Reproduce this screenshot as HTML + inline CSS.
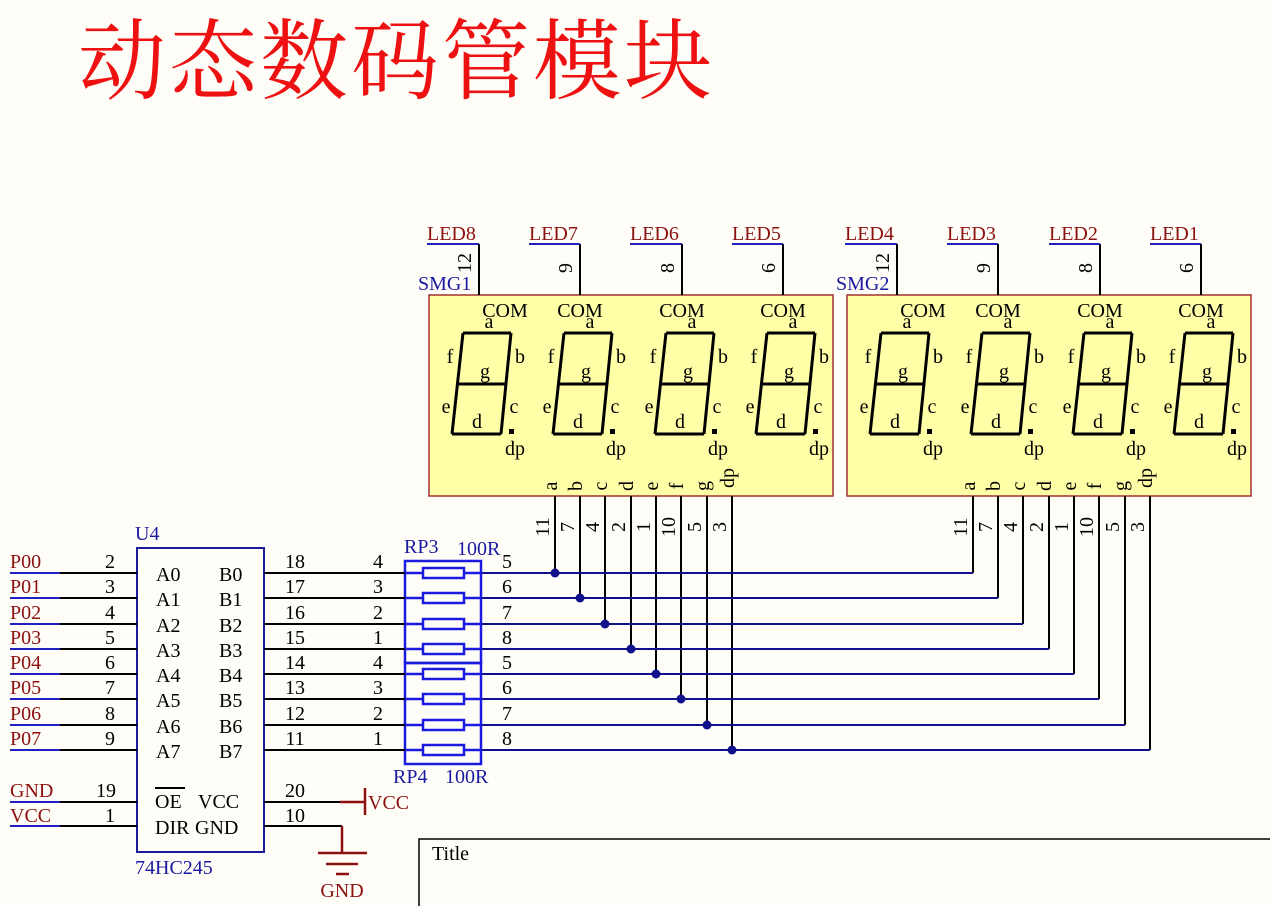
<!DOCTYPE html>
<html><head><meta charset="utf-8"><style>
body{margin:0;background:#fffdf7;}
svg{display:block}
text{font-family:"Liberation Serif",serif;font-size:20px;}
.t{fill:#000}
.bl{fill:#1a1aa0}
.rd{fill:#8b1010}
</style></head><body>
<svg width="1270" height="906" viewBox="0 0 1270 906" xmlns="http://www.w3.org/2000/svg">
<rect width="1270" height="906" fill="#fffdf7"/>
<text x="78" y="92" style="font-family:'Noto Serif CJK SC','Liberation Serif',serif;font-size:88px;fill:#ee1111;letter-spacing:3px">动态数码管模块</text>

<rect x="429" y="295" width="404" height="201" fill="#ffffa8" stroke="#a03030" stroke-width="1.5"/>
<rect x="847" y="295" width="404" height="201" fill="#ffffa8" stroke="#a03030" stroke-width="1.5"/>
<text x="418" y="290" class="bl">SMG1</text>
<text x="836" y="290" class="bl">SMG2</text>

<g stroke-width="2" fill="none">
<path d="M427 244H479M529 244H580M630 244H682M732 244H783M845 244H897M947 244H998M1049 244H1100M1150 244H1201" stroke="#2020c0"/>
<path d="M479 244V295M580 244V295M682 244V295M783 244V295M897 244V295M998 244V295M1100 244V295M1201 244V295" stroke="#000"/>
</g>
<text x="427" y="240" class="rd">LED8</text><text x="529" y="240" class="rd">LED7</text><text x="630" y="240" class="rd">LED6</text><text x="732" y="240" class="rd">LED5</text>
<text x="845" y="240" class="rd">LED4</text><text x="947" y="240" class="rd">LED3</text><text x="1049" y="240" class="rd">LED2</text><text x="1150" y="240" class="rd">LED1</text>
<g class="t" text-anchor="middle">
<text transform="translate(471,263) rotate(-90)">12</text>
<text transform="translate(572,268) rotate(-90)">9</text>
<text transform="translate(674,268) rotate(-90)">8</text>
<text transform="translate(775,268) rotate(-90)">6</text>
<text transform="translate(889,263) rotate(-90)">12</text>
<text transform="translate(990,268) rotate(-90)">9</text>
<text transform="translate(1092,268) rotate(-90)">8</text>
<text transform="translate(1193,268) rotate(-90)">6</text>
</g>

<g transform="translate(479,0)">
<path d="M-16 333H32M-22 384H27M-27 434H22M-16 333L-27 434M32 333L22 434" stroke="#000" stroke-width="3" fill="none"/>
<rect x="30" y="429" width="5" height="5" fill="#000"/>
<g class="t" text-anchor="middle"><text x="26" y="317">COM</text><text x="10" y="328">a</text><text x="-29" y="363">f</text><text x="41" y="363">b</text><text x="6" y="378">g</text><text x="-33" y="413">e</text><text x="35" y="413">c</text><text x="-2" y="428">d</text><text x="36" y="455">dp</text></g>
</g>
<g transform="translate(580,0)">
<path d="M-16 333H32M-22 384H27M-27 434H22M-16 333L-27 434M32 333L22 434" stroke="#000" stroke-width="3" fill="none"/>
<rect x="30" y="429" width="5" height="5" fill="#000"/>
<g class="t" text-anchor="middle"><text x="0" y="317">COM</text><text x="10" y="328">a</text><text x="-29" y="363">f</text><text x="41" y="363">b</text><text x="6" y="378">g</text><text x="-33" y="413">e</text><text x="35" y="413">c</text><text x="-2" y="428">d</text><text x="36" y="455">dp</text></g>
</g>
<g transform="translate(682,0)">
<path d="M-16 333H32M-22 384H27M-27 434H22M-16 333L-27 434M32 333L22 434" stroke="#000" stroke-width="3" fill="none"/>
<rect x="30" y="429" width="5" height="5" fill="#000"/>
<g class="t" text-anchor="middle"><text x="0" y="317">COM</text><text x="10" y="328">a</text><text x="-29" y="363">f</text><text x="41" y="363">b</text><text x="6" y="378">g</text><text x="-33" y="413">e</text><text x="35" y="413">c</text><text x="-2" y="428">d</text><text x="36" y="455">dp</text></g>
</g>
<g transform="translate(783,0)">
<path d="M-16 333H32M-22 384H27M-27 434H22M-16 333L-27 434M32 333L22 434" stroke="#000" stroke-width="3" fill="none"/>
<rect x="30" y="429" width="5" height="5" fill="#000"/>
<g class="t" text-anchor="middle"><text x="0" y="317">COM</text><text x="10" y="328">a</text><text x="-29" y="363">f</text><text x="41" y="363">b</text><text x="6" y="378">g</text><text x="-33" y="413">e</text><text x="35" y="413">c</text><text x="-2" y="428">d</text><text x="36" y="455">dp</text></g>
</g>
<g transform="translate(897,0)">
<path d="M-16 333H32M-22 384H27M-27 434H22M-16 333L-27 434M32 333L22 434" stroke="#000" stroke-width="3" fill="none"/>
<rect x="30" y="429" width="5" height="5" fill="#000"/>
<g class="t" text-anchor="middle"><text x="26" y="317">COM</text><text x="10" y="328">a</text><text x="-29" y="363">f</text><text x="41" y="363">b</text><text x="6" y="378">g</text><text x="-33" y="413">e</text><text x="35" y="413">c</text><text x="-2" y="428">d</text><text x="36" y="455">dp</text></g>
</g>
<g transform="translate(998,0)">
<path d="M-16 333H32M-22 384H27M-27 434H22M-16 333L-27 434M32 333L22 434" stroke="#000" stroke-width="3" fill="none"/>
<rect x="30" y="429" width="5" height="5" fill="#000"/>
<g class="t" text-anchor="middle"><text x="0" y="317">COM</text><text x="10" y="328">a</text><text x="-29" y="363">f</text><text x="41" y="363">b</text><text x="6" y="378">g</text><text x="-33" y="413">e</text><text x="35" y="413">c</text><text x="-2" y="428">d</text><text x="36" y="455">dp</text></g>
</g>
<g transform="translate(1100,0)">
<path d="M-16 333H32M-22 384H27M-27 434H22M-16 333L-27 434M32 333L22 434" stroke="#000" stroke-width="3" fill="none"/>
<rect x="30" y="429" width="5" height="5" fill="#000"/>
<g class="t" text-anchor="middle"><text x="0" y="317">COM</text><text x="10" y="328">a</text><text x="-29" y="363">f</text><text x="41" y="363">b</text><text x="6" y="378">g</text><text x="-33" y="413">e</text><text x="35" y="413">c</text><text x="-2" y="428">d</text><text x="36" y="455">dp</text></g>
</g>
<g transform="translate(1201,0)">
<path d="M-16 333H32M-22 384H27M-27 434H22M-16 333L-27 434M32 333L22 434" stroke="#000" stroke-width="3" fill="none"/>
<rect x="30" y="429" width="5" height="5" fill="#000"/>
<g class="t" text-anchor="middle"><text x="0" y="317">COM</text><text x="10" y="328">a</text><text x="-29" y="363">f</text><text x="41" y="363">b</text><text x="6" y="378">g</text><text x="-33" y="413">e</text><text x="35" y="413">c</text><text x="-2" y="428">d</text><text x="36" y="455">dp</text></g>
</g>

<g class="t" text-anchor="middle">
<text transform="translate(557,486) rotate(-90)">a</text>
<text transform="translate(582,486) rotate(-90)">b</text>
<text transform="translate(607,486) rotate(-90)">c</text>
<text transform="translate(633,486) rotate(-90)">d</text>
<text transform="translate(658,486) rotate(-90)">e</text>
<text transform="translate(683,486) rotate(-90)">f</text>
<text transform="translate(709,486) rotate(-90)">g</text>
<text transform="translate(734,478) rotate(-90)">dp</text>
<text transform="translate(975,486) rotate(-90)">a</text>
<text transform="translate(1000,486) rotate(-90)">b</text>
<text transform="translate(1025,486) rotate(-90)">c</text>
<text transform="translate(1051,486) rotate(-90)">d</text>
<text transform="translate(1076,486) rotate(-90)">e</text>
<text transform="translate(1101,486) rotate(-90)">f</text>
<text transform="translate(1127,486) rotate(-90)">g</text>
<text transform="translate(1152,478) rotate(-90)">dp</text>
<text transform="translate(549,527) rotate(-90)">11</text>
<text transform="translate(574,527) rotate(-90)">7</text>
<text transform="translate(599,527) rotate(-90)">4</text>
<text transform="translate(625,527) rotate(-90)">2</text>
<text transform="translate(650,527) rotate(-90)">1</text>
<text transform="translate(675,527) rotate(-90)">10</text>
<text transform="translate(701,527) rotate(-90)">5</text>
<text transform="translate(726,527) rotate(-90)">3</text>
<text transform="translate(967,527) rotate(-90)">11</text>
<text transform="translate(992,527) rotate(-90)">7</text>
<text transform="translate(1017,527) rotate(-90)">4</text>
<text transform="translate(1043,527) rotate(-90)">2</text>
<text transform="translate(1068,527) rotate(-90)">1</text>
<text transform="translate(1093,527) rotate(-90)">10</text>
<text transform="translate(1119,527) rotate(-90)">5</text>
<text transform="translate(1144,527) rotate(-90)">3</text>
</g>

<g stroke="#000" stroke-width="2" fill="none">
<path d="M555 496V573M580 496V598M605 496V624M631 496V649M656 496V674M681 496V699M707 496V725M732 496V750"/>
<path d="M973 496V573M998 496V598M1023 496V624M1049 496V649M1074 496V674M1099 496V699M1125 496V725M1150 496V750"/>
</g>
<g stroke="#10108a" stroke-width="2" fill="none">
<path d="M481 573H973M481 598H998M481 624H1023M481 649H1049M481 674H1074M481 699H1099M481 725H1125M481 750H1150"/>
</g>
<g fill="#10108a">
<circle cx="555" cy="573" r="4.5"/><circle cx="580" cy="598" r="4.5"/><circle cx="605" cy="624" r="4.5"/><circle cx="631" cy="649" r="4.5"/>
<circle cx="656" cy="674" r="4.5"/><circle cx="681" cy="699" r="4.5"/><circle cx="707" cy="725" r="4.5"/><circle cx="732" cy="750" r="4.5"/>
</g>

<g stroke="#1a1ae0" stroke-width="2.5" fill="none">
<rect x="405" y="561" width="76" height="102"/>
<rect x="405" y="663" width="76" height="101"/>
<path d="M405 573H481M405 598H481M405 624H481M405 649H481M405 674H481M405 699H481M405 725H481M405 750H481"/>
</g>
<g stroke="#1a1ae0" stroke-width="2.5" fill="#fffdf7">
<rect x="423" y="568" width="41" height="10"/><rect x="423" y="593" width="41" height="10"/><rect x="423" y="619" width="41" height="10"/><rect x="423" y="644" width="41" height="10"/>
<rect x="423" y="669" width="41" height="10"/><rect x="423" y="694" width="41" height="10"/><rect x="423" y="720" width="41" height="10"/><rect x="423" y="745" width="41" height="10"/>
</g>
<text x="404" y="553" class="bl">RP3</text><text x="457" y="555" class="bl">100R</text>
<text x="393" y="783" class="bl">RP4</text><text x="445" y="783" class="bl">100R</text>
<g class="t" text-anchor="middle">
<text x="507" y="568">5</text><text x="507" y="593">6</text><text x="507" y="619">7</text><text x="507" y="644">8</text>
<text x="507" y="669">5</text><text x="507" y="694">6</text><text x="507" y="720">7</text><text x="507" y="745">8</text>
<text x="378" y="568">4</text><text x="378" y="593">3</text><text x="378" y="619">2</text><text x="378" y="644">1</text>
<text x="378" y="669">4</text><text x="378" y="694">3</text><text x="378" y="720">2</text><text x="378" y="745">1</text>
<text x="295" y="568">18</text><text x="295" y="593">17</text><text x="295" y="619">16</text><text x="295" y="644">15</text>
<text x="295" y="669">14</text><text x="295" y="694">13</text><text x="295" y="720">12</text><text x="295" y="745">11</text>
<text x="110" y="568">2</text><text x="110" y="593">3</text><text x="110" y="619">4</text><text x="110" y="644">5</text>
<text x="110" y="669">6</text><text x="110" y="694">7</text><text x="110" y="720">8</text><text x="110" y="745">9</text>
<text x="106" y="797">19</text><text x="110" y="822">1</text>
<text x="295" y="797">20</text><text x="295" y="822">10</text>
</g>

<rect x="137" y="548" width="127" height="304" fill="none" stroke="#1a1a9a" stroke-width="2"/>
<text x="135" y="540" class="bl">U4</text>
<text x="135" y="874" class="bl">74HC245</text>
<g stroke="#000" stroke-width="2" fill="none">
<path d="M60 573H137M60 598H137M60 624H137M60 649H137M60 674H137M60 699H137M60 725H137M60 750H137M60 802H137M60 826H137"/>
<path d="M264 573H405M264 598H405M264 624H405M264 649H405M264 674H405M264 699H405M264 725H405M264 750H405"/>
<path d="M264 802H340M264 826H342"/>
</g>
<g stroke="#2020c0" stroke-width="2" fill="none">
<path d="M10 573H60M10 598H60M10 624H60M10 649H60M10 674H60M10 699H60M10 725H60M10 750H60M10 802H60M10 826H60"/>
</g>
<g class="rd">
<text x="10" y="568">P00</text><text x="10" y="593">P01</text><text x="10" y="619">P02</text><text x="10" y="644">P03</text>
<text x="10" y="669">P04</text><text x="10" y="694">P05</text><text x="10" y="720">P06</text><text x="10" y="745">P07</text>
<text x="10" y="797">GND</text><text x="10" y="822">VCC</text>
</g>
<g class="t">
<text x="156" y="581">A0</text><text x="219" y="581">B0</text>
<text x="156" y="606">A1</text><text x="219" y="606">B1</text>
<text x="156" y="632">A2</text><text x="219" y="632">B2</text>
<text x="156" y="657">A3</text><text x="219" y="657">B3</text>
<text x="156" y="682">A4</text><text x="219" y="682">B4</text>
<text x="156" y="707">A5</text><text x="219" y="707">B5</text>
<text x="156" y="733">A6</text><text x="219" y="733">B6</text>
<text x="156" y="758">A7</text><text x="219" y="758">B7</text>
<text x="155" y="808">OE</text><text x="198" y="808">VCC</text>
<text x="155" y="834">DIR</text><text x="195" y="834">GND</text>
</g>
<path d="M155 788H185" stroke="#000" stroke-width="2"/>

<g stroke="#8b1010" stroke-width="2.5" fill="none">
<path d="M340 802H365M365 788V815"/>
<path d="M342 826V853M318 853H367M326 864H358M336 874H349"/>
</g>
<text x="368" y="809" class="rd">VCC</text>
<text x="342" y="897" class="rd" text-anchor="middle">GND</text>

<path d="M419 906V839H1270" stroke="#000" stroke-width="1.5" fill="none"/>
<text x="432" y="860" class="t">Title</text>
</svg>
</body></html>
